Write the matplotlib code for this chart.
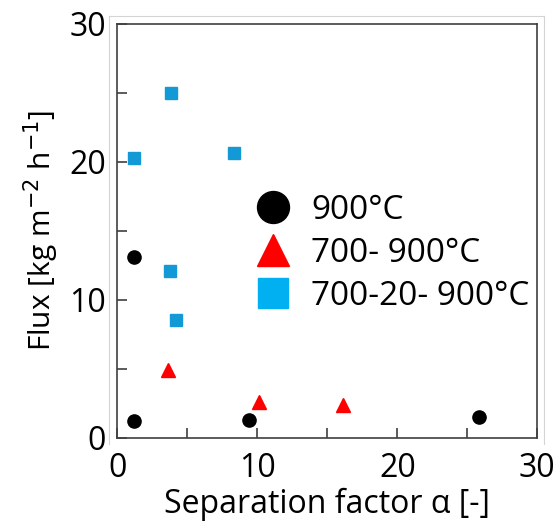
import matplotlib
matplotlib.use("Agg")
import matplotlib.pyplot as plt
from matplotlib.lines import Line2D

plt.rcParams['font.family'] = ['Open Sans', 'DejaVu Sans']

# Data
x_900 = [1.2, 9.4, 25.8]
y_900 = [1.2, 1.25, 1.5]
x_900b = [1.2]
y_900b = [13.1]
x_700_900 = [3.65, 10.1, 16.15]
y_700_900 = [4.9, 2.6, 2.35]
x_700_20_900 = [1.2, 3.8, 8.35, 3.75, 4.2]
y_700_20_900 = [20.25, 25.0, 20.65, 12.1, 8.55]
labels = ['900°C', '700- 900°C', '700-20- 900°C']

fig = plt.figure(figsize=(5.56, 5.25), dpi=100)
ax = fig.add_axes([0.211, 0.1663, 0.7554, 0.788])

blue = '#1299d6'
ax.plot(x_900 + x_900b, y_900 + y_900b, 'o', color='black', ms=9.5, ls='none')
ax.plot(x_700_900, y_700_900, '^', color='#ff0000', ms=9.5, ls='none')
ax.plot(x_700_20_900, y_700_20_900, 's', color=blue, ms=9, ls='none')

ax.set_xlim(0, 30)
ax.set_ylim(0, 30)
ax.set_xticks([0, 10, 20, 30])
ax.set_yticks([0, 10, 20, 30])
ax.set_xticks([5, 15, 25], minor=True)
ax.set_yticks([5, 15, 25], minor=True)
spc = '#404040'
for s in ax.spines.values():
    s.set_color(spc)
    s.set_linewidth(1.2)
ax.tick_params(which='both', direction='in', length=7.5, width=1.2, color=spc,
               labelsize=23, top=False, right=False)
ax.tick_params(axis='x', pad=10)
ax.tick_params(axis='y', pad=8)

ax.set_xlabel('Separation factor α [-]', fontsize=23, labelpad=2)
ax.set_ylabel('Flux [kg m$^{-2}$ h$^{-1}$]', fontsize=21.5, labelpad=6)

handles = [
    Line2D([], [], marker='o', color='black', ls='none', ms=23),
    Line2D([], [], marker='^', color='#ff0000', ls='none', ms=23),
    Line2D([], [], marker='s', color='#00b0f0', ls='none', ms=22),
]
leg = ax.legend(handles, labels, loc='upper left', bbox_to_anchor=(0.33, 0.59),
                frameon=False, fontsize=24, handlelength=1.0, handletextpad=0.65,
                labelspacing=0.3, borderaxespad=0, borderpad=0)

# light outer frame
fig.add_artist(Line2D([109/556, 109/556], [1-444/525, 1-16/525], color='#d4d4d4', lw=0.8))
fig.add_artist(Line2D([109/556, 544/556], [1-16/525, 1-16/525], color='#d4d4d4', lw=0.8))
fig.add_artist(Line2D([544/556, 544/556], [1-444/525, 1-16/525], color='#d4d4d4', lw=0.8))

fig.savefig('out.png', dpi=100)
